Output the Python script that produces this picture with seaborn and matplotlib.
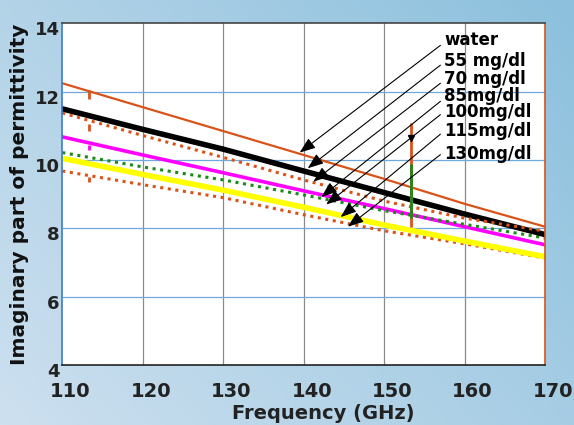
import numpy as np
import matplotlib
matplotlib.use("Agg")
import matplotlib.pyplot as plt
import matplotlib.transforms as mtransforms
from matplotlib.colors import LinearSegmentedColormap
import seaborn as sns

# --- Data ---
freq = [110, 120, 130, 140, 150, 160, 170]
water = [12.25, 11.55, 10.85, 10.15, 9.45, 8.72, 8.05]
black_line = [11.50, 10.90, 10.32, 9.68, 9.05, 8.42, 7.82]
orange_dots_hi = [11.38, 10.72, 10.08, 9.42, 8.80, 8.30, 7.92]
magenta_line = [10.68, 10.15, 9.63, 9.10, 8.58, 8.05, 7.52]
green_dots = [10.22, 9.80, 9.42, 8.98, 8.52, 8.12, 7.72]
yellow_line = [10.05, 9.58, 9.12, 8.62, 8.10, 7.63, 7.17]
orange_dots_lo = [9.68, 9.28, 8.90, 8.40, 7.93, 7.55, 7.13]

# measurement glitches (vertical segments)
glitch_freq = [113.3, 113.3, 113.3, 113.3, 153.3, 153.3]
glitch_top = [12.05, 11.05, 10.45, 9.50, 11.08, 9.90]
glitch_bottom = [11.78, 10.85, 10.30, 9.35, 8.05, 8.30]
glitch_colors = ["#d95319", "#d95319", "#ff00ff", "#d95319", "#d95319", "#1a8a1a"]

labels = ["water", "55 mg/dl", "70 mg/dl", "85mg/dl", "100mg/dl", "115mg/dl", "130mg/dl"]
label_y = [13.52, 12.90, 12.37, 11.88, 11.40, 10.84, 10.18]
arrow_tail_y = [13.36, 12.78, 12.25, 11.72, 11.33, 10.76, 10.16]
arrow_tip_x = [139.5, 140.5, 141.2, 142.2, 142.8, 144.6, 145.5]
arrow_tip_y = [10.22, 9.76, 9.37, 8.92, 8.70, 8.33, 8.05]

sns.set_theme(style="white")
plt.rcParams["font.family"] = ["DejaVu Sans"]

fig = plt.figure(figsize=(5.74, 4.25), dpi=100)

# blue gradient background
bg = fig.add_axes([0, 0, 1, 1])
gx, gy = np.meshgrid(np.linspace(0, 1, 200), np.linspace(0, 1, 200))
bg.imshow(gx * 0.6 + (1 - gy) * 0.4,
          cmap=LinearSegmentedColormap.from_list("bgc", ["#cde0ef", "#8cc0dd"]),
          aspect="auto", extent=[0, 1, 0, 1], origin="upper")
bg.axis("off")

ax = fig.add_axes([62.3 / 574, 60 / 425, 482.7 / 574, 341.5 / 425])
ax.set_facecolor("white")

dots = (0, (1.0, 1.5))
sns.lineplot(x=freq, y=orange_dots_lo, ax=ax, color="#d95319", lw=2.2, linestyle=dots)
sns.lineplot(x=freq, y=yellow_line, ax=ax, color="#ffff00", lw=4)
sns.lineplot(x=freq, y=magenta_line, ax=ax, color="#ff00ff", lw=2.6)
sns.lineplot(x=freq, y=green_dots, ax=ax, color="#1a8a1a", lw=2.2, linestyle=dots)
sns.lineplot(x=freq, y=black_line, ax=ax, color="black", lw=4)
sns.lineplot(x=freq, y=orange_dots_hi, ax=ax, color="#d95319", lw=2.2, linestyle=dots)
sns.lineplot(x=freq, y=water, ax=ax, color="#d95319", lw=1.6)

for gxv, top, bot, c in zip(glitch_freq, glitch_top, glitch_bottom, glitch_colors):
    ax.plot([gxv, gxv], [bot, top], color=c, lw=2, solid_capstyle="butt")
ax.plot([153.3], [10.65], marker="v", color="black", ms=4)

ax.set_xlim(110, 170)
ax.set_ylim(4, 14)
ax.set_xticks(range(110, 171, 10))
ax.set_yticks(range(4, 15, 2))

for xv in range(120, 170, 10):
    ax.axvline(xv, color="#8a8a8a", lw=0.9, zorder=0)
for yv in range(6, 14, 2):
    ax.axhline(yv, color="#6fa8dc", lw=0.9, zorder=0)

# annotations
for lab, ly, ty, tx, tipy in zip(labels, label_y, arrow_tail_y, arrow_tip_x, arrow_tip_y):
    ax.annotate("", xy=(tx, tipy), xytext=(157.0, ty),
                arrowprops=dict(arrowstyle="-|>,head_length=0.8,head_width=0.3",
                                color="black", lw=0.8, shrinkA=0, shrinkB=0))
    ax.text(157.5, ly, lab, fontsize=12, fontweight="bold", color="black",
            va="center", ha="left")

ax.spines["left"].set_color("#3b7dc4")
ax.spines["right"].set_color("#d95319")
ax.spines["top"].set_color("#444444")
ax.spines["bottom"].set_color("#222222")
for s in ax.spines.values():
    s.set_linewidth(1.2)

ax.tick_params(axis="x", labelsize=14, colors="#222222", pad=12, length=0)
ax.tick_params(axis="y", labelsize=13, colors="#222222", pad=2, direction="in",
               length=3, color="#3b7dc4")
xshift = mtransforms.ScaledTranslation(8 / 100, 0, fig.dpi_scale_trans)
yshift = mtransforms.ScaledTranslation(0, -5 / 100, fig.dpi_scale_trans)
for t in ax.get_xticklabels():
    t.set_fontweight("bold")
    t.set_transform(t.get_transform() + xshift)
for t in ax.get_yticklabels():
    t.set_fontweight("bold")
    t.set_transform(t.get_transform() + yshift)

ax.set_xlabel("Frequency (GHz)", fontsize=14, fontweight="bold", color="#222222")
ax.xaxis.set_label_coords(0.54, -0.115)
ax.set_ylabel("Imaginary part of permittivity", fontsize=14.5, fontweight="bold",
              color="#111111")
ax.yaxis.set_label_coords(-0.068, 0.5)

fig.savefig("out.png", dpi=100)
plt.close(fig)
